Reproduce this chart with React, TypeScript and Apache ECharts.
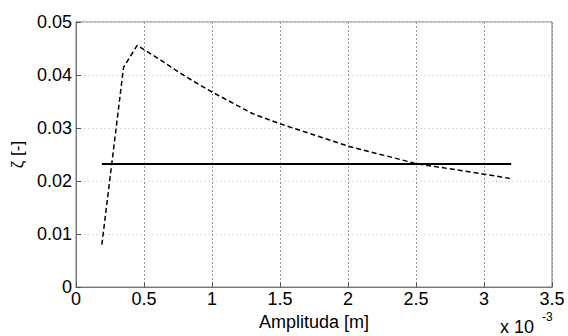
import React, { useEffect, useRef } from "react";
import * as echarts from "echarts";

const ampX = [0.19, 0.35, 0.45, 0.6, 0.8, 1.0, 1.3, 1.5, 2.0, 2.5, 3.0, 3.19];
const zeta = [0.008, 0.0415, 0.0456, 0.0432, 0.0398, 0.0368, 0.0327, 0.0308, 0.0266, 0.0233, 0.0213, 0.0205];
const constX = [0.19, 3.2];
const constZeta = [0.0232, 0.0232];

const FONT = "'Liberation Sans', Arial, sans-serif";

export default function App() {
  const ref = useRef<HTMLDivElement>(null);
  useEffect(() => {
    document.body.style.margin = "0";
    if (!ref.current) return;
    const chart = echarts.init(ref.current, undefined, { renderer: "svg" });
    chart.setOption({
      animation: false,
      backgroundColor: "#ffffff",
      grid: {
        left: 76,
        top: 22,
        width: 476,
        height: 268,
        show: true,
        borderColor: "#777",
        borderWidth: 1,
      },
      xAxis: {
        type: "value",
        min: 0,
        max: 3.5,
        interval: 0.5,
        name: "Amplituda [m]",
        nameLocation: "middle",
        nameGap: 20,
        nameTextStyle: { color: "#000", fontSize: 18, fontFamily: FONT },
        axisLine: { show: true, lineStyle: { color: "#777" } },
        axisTick: { show: true, inside: true, length: 5, lineStyle: { color: "#555" } },
        axisLabel: {
          color: "#000",
          fontSize: 18,
          fontFamily: FONT,
          margin: 3,
          formatter: (v: number) => (v === 0 ? "0" : String(v)),
        },
        splitLine: { show: true, lineStyle: { color: "#9a9a9a", type: [2, 2] } },
      },
      yAxis: {
        type: "value",
        min: 0,
        max: 0.05,
        interval: 0.01,
        name: "ζ [-]",
        nameLocation: "middle",
        nameGap: 46,
        nameTextStyle: { color: "#000", fontSize: 17, fontFamily: FONT },
        axisLine: { show: true, lineStyle: { color: "#777" } },
        axisTick: { show: true, inside: true, length: 5, lineStyle: { color: "#555" } },
        axisLabel: {
          color: "#000",
          fontSize: 18,
          fontFamily: FONT,
          margin: 4,
          formatter: (v: number) => (v === 0 ? "0" : v.toFixed(2)),
        },
        splitLine: { show: true, lineStyle: { color: "#dddddd", type: [2, 2] } },
      },
      graphic: [
        {
          type: "text",
          left: 500,
          top: 318,
          style: { text: "x 10", fill: "#000", fontSize: 18, fontFamily: FONT },
        },
        {
          type: "text",
          left: 542,
          top: 311,
          style: { text: "-3", fill: "#000", fontSize: 12, fontFamily: FONT },
        },
      ],
      series: [
        {
          type: "line",
          data: ampX.map((x, i) => [x, zeta[i]]),
          symbol: "none",
          lineStyle: { color: "#000", width: 1.5, type: [5, 3] },
        },
        {
          type: "line",
          data: constX.map((x, i) => [x, constZeta[i]]),
          symbol: "none",
          lineStyle: { color: "#000", width: 2 },
        },
      ],
    });
    return () => chart.dispose();
  }, []);
  return <div ref={ref} style={{ width: 568, height: 336 }} />;
}
